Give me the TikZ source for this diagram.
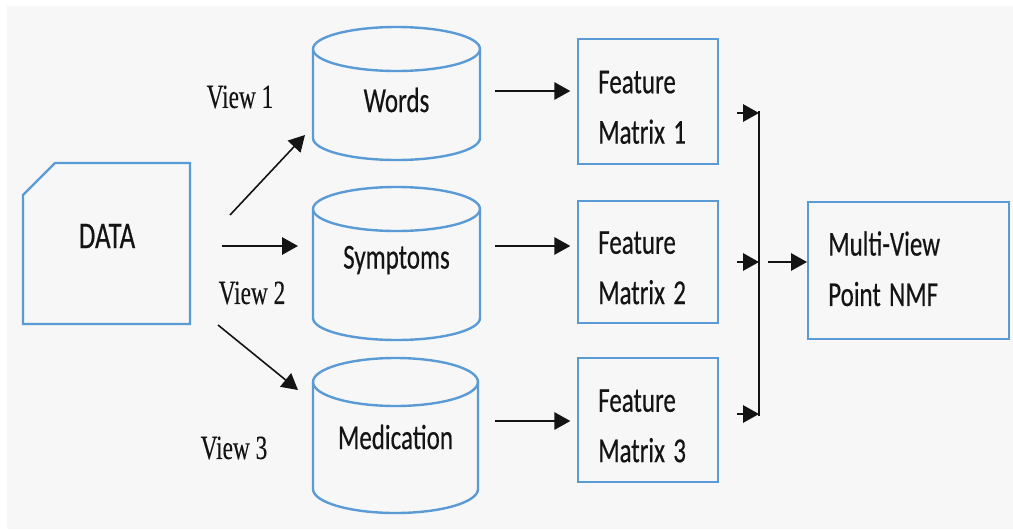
\documentclass[tikz,border=0pt]{standalone}
\usepackage{fontspec}
\usepackage{graphicx}
\setmainfont{Liberation Serif}[BoldFont=Liberation Serif, BoldFeatures={FakeBold=0.3}]
\setsansfont{Carlito}[BoldFont=Carlito, BoldFeatures={FakeBold=0.45}]
\usetikzlibrary{arrows.meta,calc}
\definecolor{paper}{HTML}{F7F7F7}
\definecolor{edge}{HTML}{5B9BD5}
\definecolor{ink}{HTML}{141414}
% tall, narrow lettering
\newcommand\tall[1]{\scalebox{1}[1.4]{#1}}
\newcommand\twolines[2]{\scalebox{1}[1.4]{\fontsize{18.75}{27}\selectfont
  \begin{tabular}{@{}l@{}}#1\\#2\end{tabular}}}
% lower the ink without changing the reported size
\newcommand\sink[1]{\raisebox{-5pt}[\height][\depth]{#1}}
% database cylinder: name, centre x, top y, bottom y, x radius, y radius, label, label y
\newcommand\dbcyl[8]{%
  \draw[edgeline] (#2,{#3+#6}) ellipse [x radius=#5, y radius=#6];
  \draw[edgeline] ({#2-#5},{#3+#6}) -- ({#2-#5},{#4-#6})
    arc[start angle=180, end angle=0, x radius=#5, y radius=#6]
    -- ({#2+#5},{#3+#6});
  \node[lbl] (#1) at (#2,#8) {\tall{#7}};
}
\tikzset{
  edgeline/.style={draw=edge, line width=1.8pt, line join=miter},
  lbl/.style={inner sep=0pt, text=ink, font=\sffamily\bfseries\fontsize{18.75}{22}\selectfont},
  viewlbl/.style={inner sep=0pt, text=ink, font=\rmfamily\bfseries\fontsize{17.5}{20}\selectfont},
  fbox/.style={edgeline, rectangle, anchor=north west, inner xsep=15pt, inner ysep=0pt,
    align=left, text=ink, font=\sffamily\bfseries\fontsize{18.75}{22}\selectfont},
  arr/.style={draw=ink, line width=1.5pt, -{Triangle[length=12pt, width=13pt]}},
  busline/.style={draw=ink, line width=1.4pt},
}
\begin{document}
\begin{tikzpicture}[x=0.75pt, y=-0.75pt]
\useasboundingbox (0,0) rectangle (1013,529);
\fill[white] (0,0) rectangle (1013,529);
\fill[paper] (7,6) rectangle (1013,529);

% source document with a clipped corner
\draw[edgeline] (55,163) -- (190,163) -- (190,324) -- (23,324) -- (23,195) -- cycle;
\node[lbl, font=\sffamily\bfseries\fontsize{20.25}{24}\selectfont] (data) at (107,236) {\tall{DATA}};

% view stores
\dbcyl{words}{396.5}{27}{160}{83.5}{22}{Words}{100}
\dbcyl{symptoms}{396.5}{187}{340}{83.5}{22}{Symptoms}{260}
\dbcyl{medication}{395.5}{358}{513}{82.5}{24}{Medication}{437}

% feature matrices
\node[fbox, minimum width=105pt, minimum height=93.75pt, text width=75pt] (fm1) at (577,38)
  {\sink{\twolines{Feature}{Matrix 1}}};
\node[fbox, minimum width=105pt, minimum height=91.5pt, text width=75pt] (fm2) at (577,200)
  {\sink{\twolines{Feature}{Matrix 2}}};
\node[fbox, minimum width=105pt, minimum height=93pt, text width=75pt] (fm3) at (577,357)
  {\sink{\twolines{Feature}{Matrix 3}}};

% fused model
\node[fbox, minimum width=150.75pt, minimum height=102.75pt, text width=120.75pt] (nmf) at (807,201)
  {\twolines{Multi-View}{Point NMF}};

% view labels
\node[viewlbl] (view1) at (240,97) {\scalebox{1}[1.45]{View 1}};
\node[viewlbl] (view2) at (252,293) {\scalebox{1}[1.45]{View 2}};
\node[viewlbl] (view3) at (234,448) {\scalebox{1}[1.45]{View 3}};

% arrows from the data into each view
\coordinate (v1s) at (230,215); \coordinate (v1e) at (305,135);
\coordinate (v2s) at (222,246); \coordinate (v2e) at (298,246);
\coordinate (v3s) at (218,325); \coordinate (v3e) at (298,390);
\draw[arr, line width=1.2pt] (v1s) -- (v1e);
\draw[arr] (v2s) -- (v2e);
\draw[arr, line width=1.2pt] (v3s) -- (v3e);

% stores to feature matrices
\coordinate (c1) at (495,91);
\coordinate (c2) at (495,246);
\coordinate (c3) at (495,421);
\draw[arr] (c1) -- ([xshift=-5pt]fm1.west |- c1);
\draw[arr] (c2) -- ([xshift=-5pt]fm2.west |- c2);
\draw[arr] (c3) -- ([xshift=-5pt]fm3.west |- c3);

% collecting bus
\coordinate (b1) at (759,113);
\coordinate (b2) at (759,262);
\coordinate (b3) at (759,414);
\draw[busline] (759,111) -- (759,416);
\draw[arr] ($(fm1.east |- b1)+(18,0)$) -- (b1);
\draw[arr] ($(fm2.east |- b2)+(18,0)$) -- (b2);
\draw[arr] ($(fm3.east |- b3)+(18,0)$) -- (b3);
\draw[arr] ($(b2)+(9,0)$) -- (nmf.west |- b2);
\end{tikzpicture}
\end{document}
